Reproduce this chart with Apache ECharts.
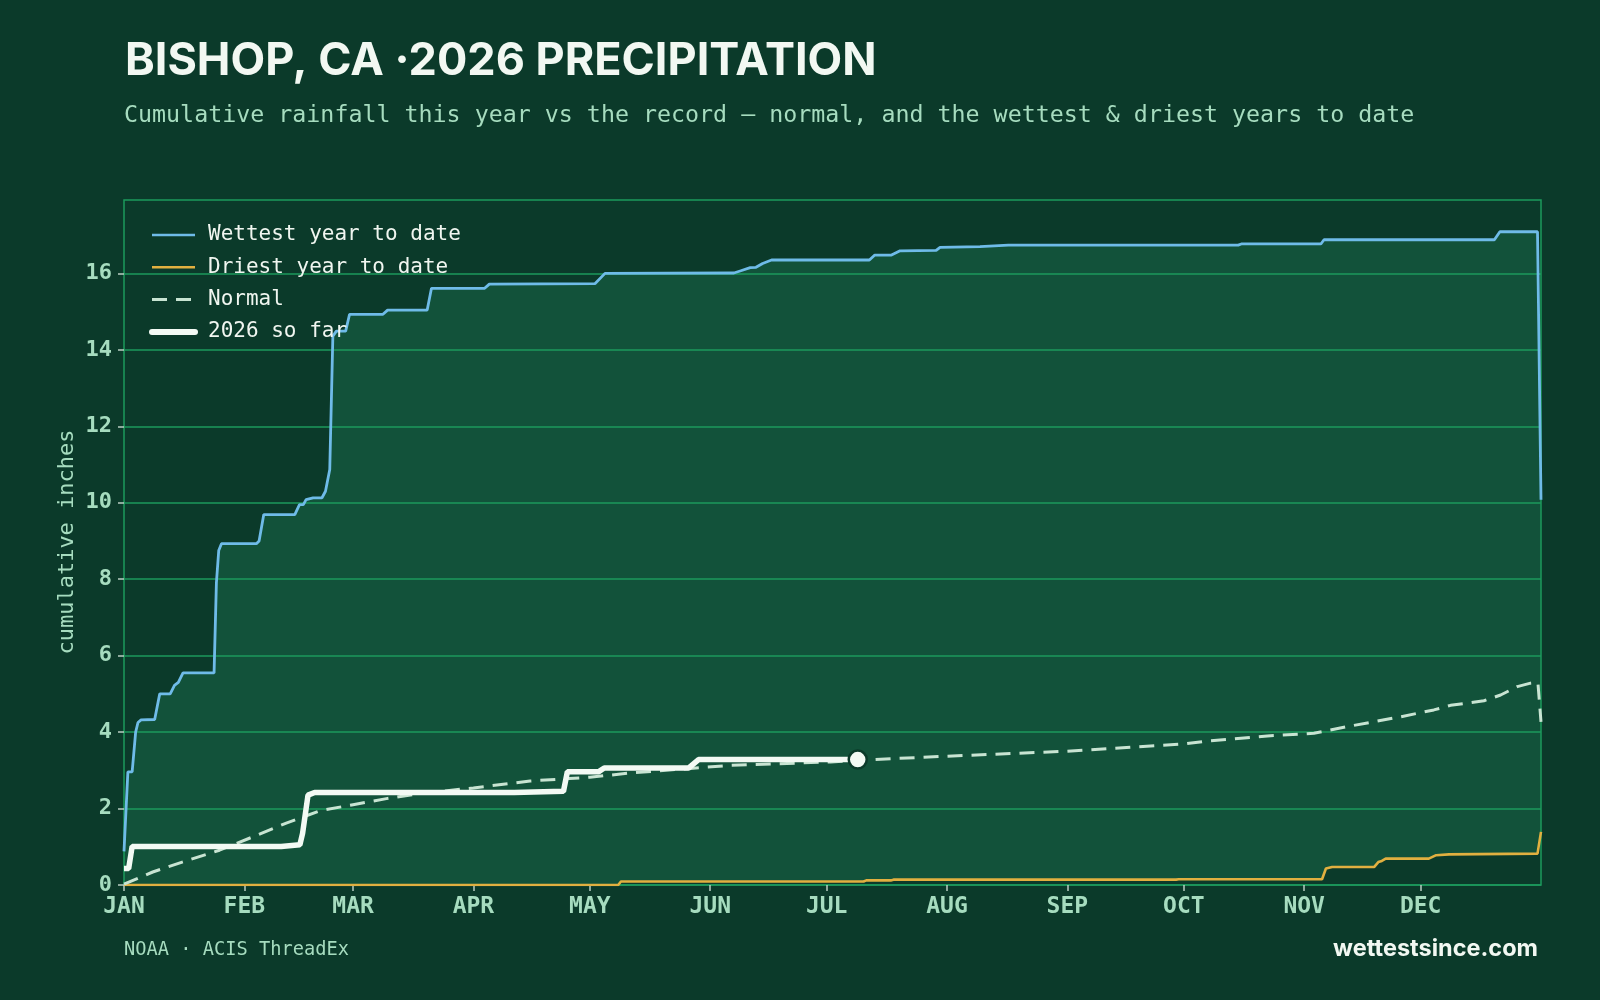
<!DOCTYPE html>
<html>
<head>
<meta charset="utf-8">
<title>Bishop, CA 2026 precipitation</title>
<script src="https://cdn.jsdelivr.net/npm/echarts@6/dist/echarts.min.js"></script>
<style>
	html, body { margin: 0; padding: 0; background: #0b3a2a; }
	#chart { width: 1600px; height: 1000px; }
</style>
</head>
<body>
<div id="chart"></div>
<script>
// day of year (0 = Jan 1), cumulative inches
var wettestData = [
	[0, 0.88], [1, 2.96], [2.1, 2.96], [3, 4.0], [3.6, 4.25], [4.4, 4.32], [7.9, 4.33],
	[9.2, 5.0], [11.9, 5.0], [13, 5.22], [14, 5.3], [15.2, 5.55], [23.2, 5.55],
	[23.8, 7.9], [24.4, 8.75], [25.1, 8.93], [34.1, 8.93], [34.8, 9.0], [36, 9.69],
	[44, 9.69], [45.2, 9.95], [46.2, 9.95], [46.9, 10.08], [48.7, 10.13], [51, 10.13],
	[51.9, 10.3], [53, 10.87], [53.8, 14.36], [54.7, 14.49], [57.1, 14.49], [58.1, 14.93],
	[66.7, 14.93], [67.9, 15.04], [78.1, 15.04], [79.2, 15.61], [92.9, 15.61], [94.1, 15.72],
	[121.3, 15.73], [123.9, 16.0], [157.1, 16.01], [158.9, 16.07], [161.3, 16.15],
	[162.8, 16.16], [164.5, 16.26], [166.8, 16.35], [192, 16.35], [193.4, 16.48],
	[197.7, 16.48], [199.9, 16.59], [209.2, 16.6], [210.2, 16.68], [220.5, 16.7],
	[227.8, 16.74], [287, 16.74], [287.8, 16.77], [308.3, 16.77], [309.1, 16.88],
	[353, 16.88], [354.4, 17.09], [364.1, 17.09], [365, 10.08]
];
var driestData = [
	[0, 0], [127.3, 0], [128, 0.09], [190.5, 0.09], [191.2, 0.12], [197.5, 0.12],
	[198.2, 0.14], [271, 0.14], [271.7, 0.15], [308.6, 0.15], [309.6, 0.43], [311.2, 0.47],
	[322, 0.47], [323.1, 0.6], [324, 0.63], [325, 0.69], [336.1, 0.69], [338, 0.78],
	[341.3, 0.8], [341.8, 0.82], [364.1, 0.82], [365, 1.39]
];
var normalData = [
	[0, 0.02], [7.4, 0.34], [15, 0.6], [24.6, 0.91], [33.2, 1.26], [41.8, 1.62],
	[50.4, 1.94], [59, 2.1], [67.6, 2.26], [76.2, 2.39], [90, 2.54], [104.6, 2.72],
	[120, 2.82], [130.4, 2.93], [156.2, 3.13], [182, 3.22], [199.2, 3.31], [212, 3.37],
	[243, 3.5], [273, 3.69], [278.5, 3.76], [294.5, 3.9], [306.5, 3.97], [316, 4.16],
	[328.8, 4.4], [337.4, 4.58], [341.7, 4.7], [350.3, 4.82], [354.6, 4.97],
	[358.9, 5.19], [362.3, 5.28], [364.2, 5.3], [365, 4.27]
];
var thisYearData = [
	[0, 0.43], [1.2, 0.43], [2.1, 1.01], [40.5, 1.01], [41, 1.05], [45.3, 1.05],
	[46, 1.35], [47.4, 2.35], [49.1, 2.42], [100.5, 2.42], [101, 2.45], [113.2, 2.45],
	[114.2, 2.96], [122.2, 2.96], [123.7, 3.06], [145.4, 3.06], [148, 3.28], [189, 3.28]
];
var todayPoint = [[189, 3.28]];

var monthStarts = [0, 31, 59, 90, 120, 151, 181, 212, 243, 273, 304, 334];
var monthNames = ['JAN', 'FEB', 'MAR', 'APR', 'MAY', 'JUN', 'JUL', 'AUG', 'SEP', 'OCT', 'NOV', 'DEC'];
var yTicks = [0, 2, 4, 6, 8, 10, 12, 14, 16];

var bg = '#0b3a2a';
var mint = '#a6dcbf';
var gridGreen = '#1c9a5c';
var mono = '"DejaVu Sans Mono", monospace';

var colWet = '#6fbbe8', colDry = '#e1b040', colNormal = '#c8e4d2', colNow = '#f3faf4';

var chart = echarts.init(document.getElementById('chart'));

var option = {
	backgroundColor: bg,
	animation: false,
	grid: {
		left: 124, right: 59, top: 200, bottom: 115,
		show: true, borderColor: gridGreen, borderWidth: 1.5,
		backgroundColor: 'transparent', z: 1
	},
	graphic: [
		{ type: 'text', left: 125, top: 39, z: 10,
			style: { text: 'BISHOP, CA \u00b72026 PRECIPITATION', fill: '#f2f8f2',
				font: '700 45px Inter, "Noto Sans", sans-serif' } },
		{ type: 'text', left: 124, top: 104, z: 10,
			style: { text: 'Cumulative rainfall this year vs the record \u2014 normal, and the wettest & driest years to date',
				fill: mint, font: '23.3px ' + mono } },
		{ type: 'text', left: 124, top: 941, z: 10,
			style: { text: 'NOAA \u00b7 ACIS ThreadEx', fill: mint, font: '18.7px ' + mono } },
		{ type: 'text', right: 62, top: 937, z: 10,
			style: { text: 'wettestsince.com', fill: '#f2f8f2',
				font: '700 23.5px Inter, "Noto Sans", sans-serif' } },
		// y axis title
		{ type: 'text', x: 67, y: 542, rotation: Math.PI / 2, z: 10,
			style: { text: 'cumulative inches', fill: mint, font: '22px ' + mono,
				align: 'center', verticalAlign: 'middle' } }
	],
	legend: {
		orient: 'vertical', left: 144, top: 218,
		itemWidth: 43, itemHeight: 14, itemGap: 8.3,
		selectedMode: false,
		itemStyle: { opacity: 0 },
		data: [
			{ name: 'Wettest year to date', lineStyle: { color: colWet, width: 2.6 } },
			{ name: 'Driest year to date', lineStyle: { color: colDry, width: 2.6 } },
			{ name: 'Normal', lineStyle: { color: colNormal, width: 3, type: [15, 9] } },
			{ name: '2026 so far', lineStyle: { color: colNow, width: 6, cap: 'round' } }
		],
		textStyle: { color: '#f0f6f0', fontFamily: mono, fontSize: 21, lineHeight: 24, padding: [0, 0, 0, 8] }
	},
	xAxis: {
		type: 'value', min: 0, max: 365, z: 1,
		axisLine: { show: false },
		splitLine: { show: false },
		axisTick: { show: true, length: 6, customValues: monthStarts, lineStyle: { color: '#b9cdc2', width: 1.5 } },
		axisLabel: {
			customValues: monthStarts, margin: 11,
			color: mint, fontFamily: mono, fontWeight: 'bold', fontSize: 23,
			formatter: function (v) {
				var i = monthStarts.indexOf(v);
				return i >= 0 ? monthNames[i] : '';
			}
		}
	},
	yAxis: {
		type: 'value', min: 0, max: 17.92, interval: 2, z: 1,
		axisLine: { show: false },
		axisTick: { show: true, length: 6, customValues: yTicks, lineStyle: { color: '#b9cdc2', width: 1.5 } },
		splitLine: { show: true, lineStyle: { color: gridGreen, width: 1.5 } },
		axisLabel: {
			customValues: yTicks, margin: 12,
			color: mint, fontFamily: mono, fontWeight: 'bold', fontSize: 22
		}
	},
	series: [
		{
			// band between driest and wettest
			name: 'band', type: 'custom', z: 0, silent: true, clip: true,
			data: [[0, 0]],
			renderItem: function (params, api) {
				var pts = [];
				for (var i = 0; i < wettestData.length; i++) pts.push(api.coord(wettestData[i]));
				for (var j = driestData.length - 1; j >= 0; j--) pts.push(api.coord(driestData[j]));
				return { type: 'polygon', shape: { points: pts }, style: { fill: '#12523a' } };
			}
		},
		{
			name: 'Wettest year to date', type: 'line', data: wettestData, symbol: 'none', z: 3,
			lineStyle: { color: colWet, width: 2.8 }, itemStyle: { color: colWet }
		},
		{
			name: 'Driest year to date', type: 'line', data: driestData, symbol: 'none', z: 3,
			lineStyle: { color: colDry, width: 2.6 }, itemStyle: { color: colDry }
		},
		{
			name: 'Normal', type: 'line', data: normalData, symbol: 'none', z: 4,
			lineStyle: { color: colNormal, width: 3, type: [15, 9] }, itemStyle: { color: colNormal }
		},
		{
			name: '2026 so far', type: 'line', data: thisYearData, symbol: 'none', z: 5,
			lineStyle: { color: colNow, width: 5.5 }, itemStyle: { color: colNow }
		},
		{
			name: 'today', type: 'scatter', data: todayPoint, z: 6, symbolSize: 18,
			itemStyle: { color: colNow, borderColor: bg, borderWidth: 2.5, opacity: 1 }
		}
	]
};
chart.setOption(option);
</script>
</body>
</html>
